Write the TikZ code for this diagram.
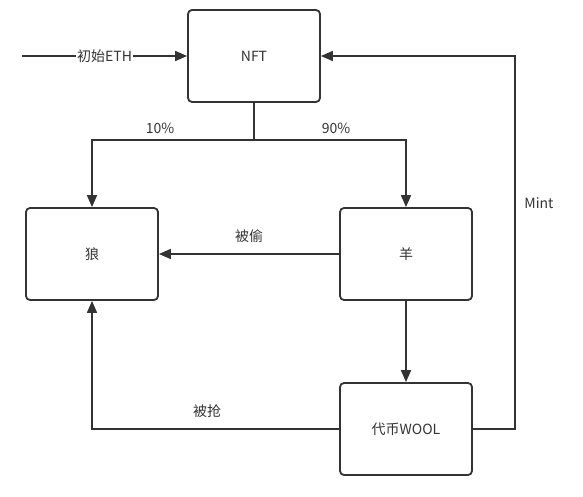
\documentclass[tikz,border=0pt]{standalone}
\usepackage{fontspec}
\setmainfont{Noto Sans CJK SC}
\usetikzlibrary{arrows.meta}
\definecolor{ink}{HTML}{333333}
\begin{document}
\begin{tikzpicture}[x=1pt,y=-1pt,
  box/.style={draw=ink,line width=1.8pt,rounded corners=4pt,fill=white,minimum width=132pt,minimum height=92pt,inner sep=0pt,font=\fontsize{14}{16}\selectfont,text=ink},
  conn/.style={draw=ink,line width=1.7pt,-{Triangle[length=12pt,width=10pt]}},
  lbl/.style={font=\fontsize{14}{16}\selectfont,text=ink,inner sep=1pt}]
\useasboundingbox (0,0) rectangle (583,497);
\node[box] (nft) at (254,56) {NFT};
\node[box] (wolf) at (92,254) {狼};
\node[box] (sheep) at (406,254) {羊};
\node[box] (wool) at (406,429) {代币WOOL};
\coordinate (start) at (22,56);
\coordinate (split) at (254,140);
\coordinate (mintc) at (515,56);
% initial ETH
\draw[conn] (start) -- node[lbl,fill=white]{初始ETH} (nft.west);
% split
\draw[draw=ink,line width=1.7pt] (nft.south) -- (split);
\draw[conn] (split) -| (wolf.north);
\draw[conn] (split) -| (sheep.north);
\node[lbl] (p10) at (160,128) {10\%};
\node[lbl] (p90) at (336,128) {90\%};
% stolen
\draw[conn] (sheep.west) -- (wolf.east);
\node[lbl] (steal) at (249,236) {被偷};
% sheep to wool
\draw[conn] (sheep.south) -- (wool.north);
% robbed
\draw[conn] (wool.west) -| (wolf.south);
\node[lbl] (rob) at (207,411) {被抢};
% mint
\draw[conn] (wool.east) -| (mintc) -- (nft.east);
\node[lbl] (mint) at (539,203) {Mint};
\end{tikzpicture}
\end{document}
